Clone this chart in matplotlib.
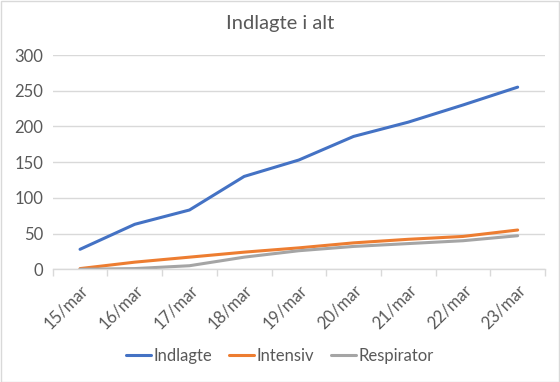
import matplotlib
matplotlib.use("Agg")
import matplotlib.pyplot as plt
from matplotlib.patches import Rectangle

dates = ["15/mar", "16/mar", "17/mar", "18/mar", "19/mar", "20/mar", "21/mar", "22/mar", "23/mar"]
indlagte = [28, 63, 83, 130, 153, 186, 206, 230, 255]
intensiv = [1, 10, 17, 24, 30, 37, 42, 46, 55]
respirator = [0, 1, 5, 17, 26, 32, 36, 40, 47]
yticks = [0, 50, 100, 150, 200, 250, 300]

plt.rcParams['font.family'] = ['Lato', 'DejaVu Sans']
W, H = 560, 382
fig = plt.figure(figsize=(W/100, H/100), dpi=100)
ax = fig.add_axes([52.7/W, 1-269.3/H, (545-52.7)/W, (269.3-55)/H])

x = list(range(len(dates)))
ax.plot(x, indlagte, color="#4472C4", lw=2.2, label="Indlagte", solid_capstyle="round")
ax.plot(x, intensiv, color="#ED7D31", lw=2.2, label="Intensiv", solid_capstyle="round")
ax.plot(x, respirator, color="#A5A5A5", lw=2.2, label="Respirator", solid_capstyle="round")

ax.set_xlim(-0.5, len(dates) - 0.5)
ax.set_ylim(0, 300)
ax.set_yticks(yticks)
ax.set_yticklabels([str(v) for v in yticks], fontsize=12, color="#595959")
ax.set_xticks(x)
ax.set_xticklabels(dates, rotation=45, ha="right", rotation_mode="anchor", fontsize=12, color="#595959")
ax.tick_params(axis="x", length=0, pad=9)
ax.tick_params(axis="y", length=0, pad=7)
# category boundary ticks
ax.set_xticks([i - 0.5 for i in range(len(dates) + 1)], minor=True)
ax.tick_params(axis="x", which="minor", length=5, color="#D9D9D9", width=1)
ax.grid(axis="y", color="#D9D9D9", lw=1)
ax.set_axisbelow(True)
for s in ["top", "right", "left"]:
    ax.spines[s].set_visible(False)
ax.spines["bottom"].set_color("#D9D9D9")
ax.spines["bottom"].set_linewidth(1)

fig.text(0.5, 1-23/H, "Indlagte i alt", ha="center", va="center", fontsize=14.5, color="#595959")

leg = fig.legend(loc="center", bbox_to_anchor=(0.5, 1-356/H), ncol=3, frameon=False,
                 fontsize=12, handlelength=1.5, handletextpad=0.15, columnspacing=1.0)
for t in leg.get_texts():
    t.set_color("#595959")

fig.patches.append(Rectangle((0.5/W, 0.5/H), 1-1.5/W, 1-1.5/H, transform=fig.transFigure,
                             fill=False, edgecolor="#D9D9D9", lw=1))

fig.savefig("out.png", dpi=100)
